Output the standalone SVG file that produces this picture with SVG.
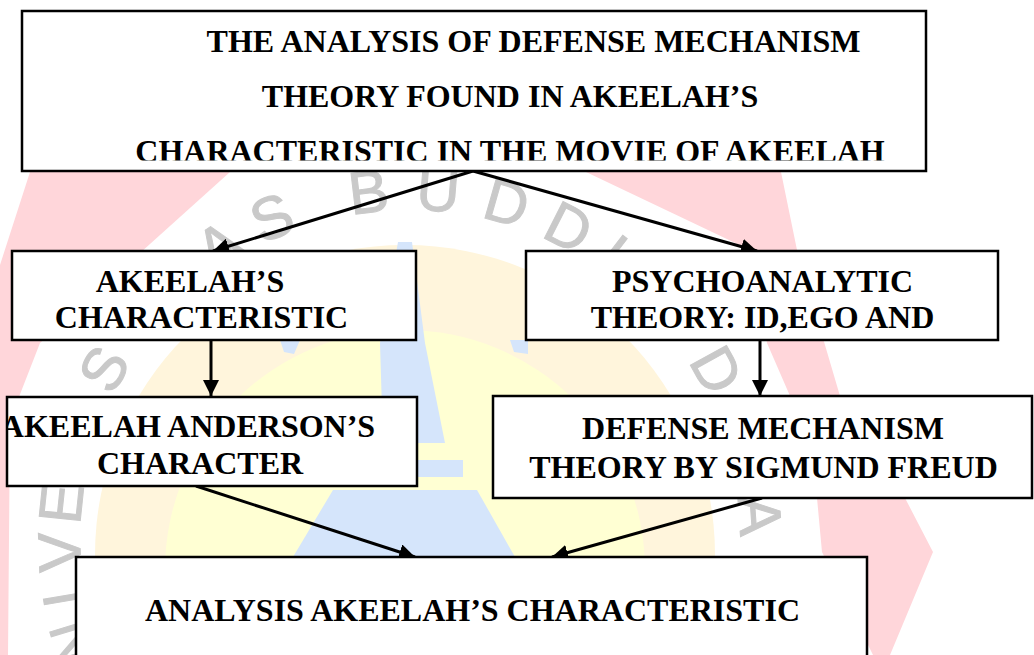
<svg xmlns="http://www.w3.org/2000/svg" width="1034" height="655" viewBox="0 0 1034 655">
  <style>
    .box { fill: #ffffff; stroke: #000000; stroke-width: 2.5; }
    .lbl { font-family: "Liberation Serif", "Times New Roman", serif; font-weight: bold; font-size: 32px; fill: #000000; text-anchor: middle; }
    .edge { stroke: #000000; stroke-width: 3; fill: none; marker-end: url(#arrow); }
    .wm { font-family: "Liberation Sans", Arial, sans-serif; font-size: 60px; fill: #c9c9c9; stroke: #c9c9c9; stroke-width: 1; text-anchor: middle; }
  </style>
  <defs>
    <marker id="arrow" viewBox="0 0 16 16" refX="16" refY="8" markerWidth="16" markerHeight="16" markerUnits="userSpaceOnUse" orient="auto">
      <path d="M0,0 L16,8 L0,16 z" fill="#000000"/>
    </marker>
    <clipPath id="clipTitle"><rect x="22" y="11" width="904" height="149.5"/></clipPath>
    <clipPath id="clipB4"><rect x="8" y="397" width="409" height="89"/></clipPath>
  </defs>
  <rect x="0" y="0" width="1034" height="655" fill="#ffffff"/>

  <g id="watermark">
    <circle cx="405" cy="555" r="310" fill="#fff5dc"/>
    <circle cx="405" cy="570" r="240" fill="#ffffd3"/>
    <polygon points="398,242 412,242 425,343 445,443 383,443 380,343" fill="#d5e5fb"/>
    <rect x="350" y="460" width="113" height="17" fill="#d5e5fb"/>
    <polygon points="333,490 477,490 515,557 293,557" fill="#d5e5fb"/>
    <polygon points="280,340 300,340 294,354 284,352" fill="#d5e5fb"/>
    <polygon points="510,340 528,340 528,354 514,352" fill="#d5e5fb"/>
    <polygon points="30,172 230,172 40,343 10,420 8,655 0,655 0,265" fill="#ffd6da"/>
    <polygon points="586,172 781,172 797,250 840,396 905,498 933,552 890,655 873,655 822,552 817,498 790,396 767,343 750,250" fill="#ffd6da"/>
    <text class="wm" transform="translate(94.2,635.9) rotate(253.1)">N</text>
    <text class="wm" transform="translate(84.6,595.0) rotate(260.4)">I</text>
    <text class="wm" transform="translate(80.2,551.5) rotate(268)">V</text>
    <text class="wm" transform="translate(81.8,505.5) rotate(276)">E</text>
    <text class="wm" transform="translate(94.4,443.5) rotate(287)">R</text>
    <text class="wm" transform="translate(122.0,379.0) rotate(299.2)">S</text>
    <text class="wm" transform="translate(150.0,336.8) rotate(308)">I</text>
    <text class="wm" transform="translate(184.9,298.6) rotate(317)">T</text>
    <text class="wm" transform="translate(230.3,263.2) rotate(327)">A</text>
    <text class="wm" transform="translate(280.0,236.7) rotate(336.8)">S</text>
    <text class="wm" transform="translate(370.9,212.3) rotate(353.2)">B</text>
    <text class="wm" transform="translate(436.5,211.1) rotate(4.6)">U</text>
    <text class="wm" transform="translate(501.0,222.8) rotate(16)">D</text>
    <text class="wm" transform="translate(559.3,245.7) rotate(26.9)">D</text>
    <text class="wm" transform="translate(610.9,278.2) rotate(37.5)">H</text>
    <text class="wm" transform="translate(647.4,310.7) rotate(46)">I</text>
    <text class="wm" transform="translate(698.6,380.0) rotate(61)">D</text>
    <text class="wm" transform="translate(725.6,443.5) rotate(73)">H</text>
    <text class="wm" transform="translate(739.2,517.0) rotate(86)">A</text>
  </g>

  <g id="connectors">
    <line class="edge" x1="473" y1="171" x2="213" y2="251"/>
    <line class="edge" x1="473" y1="171" x2="757" y2="251"/>
    <line class="edge" x1="211" y1="341" x2="211" y2="396"/>
    <line class="edge" x1="760" y1="341" x2="760" y2="396"/>
    <line class="edge" x1="196" y1="486" x2="415" y2="557"/>
    <line class="edge" x1="762" y1="498" x2="552" y2="557"/>
  </g>

  <g id="node-title">
    <rect class="box" x="22" y="11" width="904" height="160"/>
    <g clip-path="url(#clipTitle)">
      <text class="lbl" x="533.5" y="52">THE ANALYSIS OF DEFENSE MECHANISM</text>
      <text class="lbl" x="510" y="107">THEORY FOUND IN AKEELAH’S</text>
      <text class="lbl" x="510" y="162">CHARACTERISTIC IN THE MOVIE OF AKEELAH</text>
    </g>
  </g>

  <g id="node-characteristic">
    <rect class="box" x="12" y="251" width="404" height="89"/>
    <text class="lbl" x="190" y="292">AKEELAH’S</text>
    <text class="lbl" x="201.5" y="328">CHARACTERISTIC</text>
  </g>

  <g id="node-psychoanalytic">
    <rect class="box" x="526" y="251" width="472" height="89"/>
    <text class="lbl" x="762.5" y="292">PSYCHOANALYTIC</text>
    <text class="lbl" x="762.5" y="328">THEORY: ID,EGO AND</text>
  </g>

  <g id="node-character">
    <rect class="box" x="7" y="397" width="410" height="89"/>
    <g clip-path="url(#clipB4)">
      <text class="lbl" x="188" y="437">AKEELAH ANDERSON’S</text>
    </g>
    <text class="lbl" x="200" y="474">CHARACTER</text>
  </g>

  <g id="node-defense">
    <rect class="box" x="493" y="396" width="539" height="102"/>
    <text class="lbl" x="763" y="439">DEFENSE MECHANISM</text>
    <text class="lbl" x="763.5" y="478">THEORY BY SIGMUND FREUD</text>
  </g>

  <g id="node-analysis">
    <rect class="box" x="76" y="557" width="791" height="140"/>
    <text class="lbl" x="472.5" y="621">ANALYSIS AKEELAH’S CHARACTERISTIC</text>
  </g>
</svg>
